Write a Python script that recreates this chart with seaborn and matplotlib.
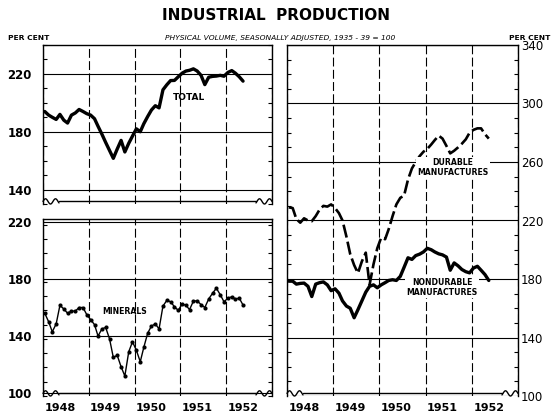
import numpy as np
import pandas as pd
import matplotlib
matplotlib.use('Agg')
import matplotlib.pyplot as plt
import seaborn as sns

# monthly index values, Jan 1948 .. May 1952 (1935-39 = 100)
months = pd.date_range('1948-01-01', periods=53, freq='MS') + pd.Timedelta(days=14)

total = [194, 191.5, 190, 188.5, 192, 188, 186, 191.5, 193, 195.4, 194, 192.5,
         191.5, 189, 183.8, 178.3, 172.6, 167, 161.6, 168, 174, 166, 172, 177,
         182, 180, 185.5, 190.5, 195, 198, 196.5, 209, 212.5, 215.4, 215.5, 218,
         220.5, 222, 222.5, 223.5, 222, 219, 212.6, 217.7, 218.3, 218.5, 219, 218.4,
         221, 222.3, 220.5, 218, 215]
minerals = [156, 150, 143, 148.5, 161.5, 159, 156, 157.5, 157.5, 160, 160, 155,
            151.5, 148, 140, 145, 146, 138, 125, 126.5, 118.5, 112, 129, 136,
            130, 122, 132, 142, 147, 148.5, 145, 161, 165, 164, 160.5, 158,
            162.5, 161.5, 158.5, 164.5, 164.7, 162, 160, 166, 170, 173.5, 169, 164,
            166.5, 167.5, 166, 166.5, 161.7]
durable = [229, 228.5, 221, 218.5, 221.5, 220, 219.5, 223, 227.5, 230, 229.5, 231,
           228.5, 225, 220, 209, 197, 189.5, 184, 192, 198, 176, 190, 201,
           208.3, 207.2, 214, 223, 231, 235.5, 237, 248, 255.6, 260, 264, 267,
           269, 272, 275, 278, 276, 271, 265.9, 267.7, 270, 272.5, 275.5, 280,
           282, 283, 283, 279, 276]
nondurable = [178.5, 178.5, 176.5, 177, 177.2, 175, 168, 176.5, 177.5, 178, 176, 172,
              173.3, 170.3, 165, 161.5, 160, 153.5, 159, 165, 171, 175, 176, 174,
              176, 177.5, 179, 179.5, 179, 181.8, 188, 194.5, 193.4, 196, 197, 198.5,
              201, 200, 198.5, 197.2, 196.5, 195, 186, 191, 189, 186.5, 185, 184.2,
              187.5, 188.7, 186, 183, 179]
years = ['1948', '1949', '1950', '1951', '1952']

df = pd.DataFrame({'month': months, 'Total': total, 'Minerals': minerals,
                   'Durable': durable, 'Nondurable': nondurable})

sns.set_theme(style='white')
plt.rcParams['font.family'] = ['DejaVu Sans']
plt.rcParams['text.color'] = 'black'
plt.rcParams['xtick.color'] = 'black'
plt.rcParams['ytick.color'] = 'black'

W, H = 552, 419
fig = plt.figure(figsize=(W / 100, H / 100), dpi=100)


def box(x0, y0, x1, y1):
    return [x0 / W, 1 - y1 / H, (x1 - x0) / W, (y1 - y0) / H]


ax_tot = fig.add_axes(box(43, 45, 272, 204))
ax_min = fig.add_axes(box(43, 219, 272, 396))
ax_man = fig.add_axes(box(287, 45, 518, 396))

sns.lineplot(data=df, x='month', y='Total', ax=ax_tot, color='black', lw=2.4)
sns.lineplot(data=df, x='month', y='Minerals', ax=ax_min, color='black', lw=1.0,
             marker='o', markersize=3, markeredgewidth=0)
sns.lineplot(data=df, x='month', y='Durable', ax=ax_man, color='black', lw=1.9,
             linestyle=(0, (5, 1.6)))
sns.lineplot(data=df, x='month', y='Nondurable', ax=ax_man, color='black', lw=2.4)

year_starts = pd.date_range('1948-01-01', '1953-01-01', freq='YS')
label_pos = [pd.Timestamp(f'{y}-05-15') for y in years]


def add_breaks(ax):
    ax.spines['bottom'].set_visible(False)
    bb = ax.get_position()
    w, h = bb.width * W, bb.height * H
    seg = 16 / w
    amp = 2.6 / h
    t = np.linspace(0, 1, 60)
    wave = amp * np.sin(2 * np.pi * 1.6 * t)
    kw = dict(transform=ax.transAxes, color='black', lw=1, clip_on=False)
    ax.plot(t * seg, wave + amp, **kw)
    ax.plot([seg, 1 - seg], [amp, amp], **kw)
    ax.plot(1 - seg + t * seg, wave[::-1] + amp, **kw)


def style(ax, ylim, yticks, right=False, xlabels=True):
    ax.set_xlim(year_starts[0], year_starts[-1])
    ax.set_ylim(*ylim)
    ax.set_xticks(year_starts)
    ax.set_xticklabels([])
    if xlabels:
        ax.set_xticks(label_pos, labels=years, minor=True)
    else:
        ax.set_xticks([], minor=True)
    ax.set_yticks(yticks)
    ax.set_yticks(np.arange(ylim[0], ylim[1] + 1, 10), minor=True)
    ax.set_xlabel('')
    ax.set_ylabel('')
    ax.grid(axis='x', which='major', color='black', lw=0.8, ls=(0, (8, 3)))
    ax.grid(axis='y', which='major', color='black', lw=0.8)
    ax.tick_params(axis='x', which='both', length=0, pad=5, labelsize=8)
    ax.tick_params(axis='y', which='major', length=0, labelsize=8.5)
    ax.tick_params(axis='y', which='minor', left=True, right=True, direction='in',
                   length=3, width=0.8, color='black')
    for lab in ax.get_xticklabels(minor=True) + ax.get_yticklabels():
        lab.set_fontweight('bold')
    if right:
        ax.yaxis.tick_right()
        ax.tick_params(axis='y', which='major', pad=2, length=0)
        ax.tick_params(axis='y', which='minor', left=True, right=True, direction='in', length=3)
    else:
        ax.tick_params(axis='y', which='major', pad=8)
    for s in ax.spines.values():
        s.set_color('black')
        s.set_linewidth(1)
    add_breaks(ax)


style(ax_tot, (130, 240), [140, 180, 220], xlabels=False)
style(ax_min, (98, 222), [100, 140, 180, 220])
style(ax_man, (100, 340), [100, 140, 180, 220, 260, 300, 340], right=True)

lbl = dict(fontweight='bold', ha='center', va='center', color='black')
ax_tot.text(0.638, 0.667, 'TOTAL', transform=ax_tot.transAxes, fontsize=6.5, **lbl)
ax_min.text(0.358, 0.48, 'MINERALS', transform=ax_min.transAxes, fontsize=5.6, **lbl)
ax_man.text(0.719, 0.651, 'DURABLE\nMANUFACTURES', transform=ax_man.transAxes,
            fontsize=5.6, linespacing=1.1,
            bbox=dict(facecolor='white', edgecolor='none', pad=1), **lbl)
ax_man.text(0.671, 0.309, 'NONDURABLE\nMANUFACTURES', transform=ax_man.transAxes,
            fontsize=5.6, linespacing=1.1,
            bbox=dict(facecolor='white', edgecolor='none', pad=1), **lbl)

fig.text(276 / W, 1 - 15 / H, 'INDUSTRIAL  PRODUCTION', ha='center', va='center',
         fontsize=11, fontweight='bold')
fig.text(280 / W, 1 - 38 / H, 'PHYSICAL VOLUME, SEASONALLY ADJUSTED, 1935 - 39 = 100',
         ha='center', va='center', fontsize=5.4, style='italic')
fig.text(8 / W, 1 - 38 / H, 'PER CENT', ha='left', va='center', fontsize=5.4,
         fontweight='bold')
fig.text(509 / W, 1 - 38 / H, 'PER CENT', ha='left', va='center', fontsize=5.4,
         fontweight='bold')

fig.savefig('out.png', dpi=100)
